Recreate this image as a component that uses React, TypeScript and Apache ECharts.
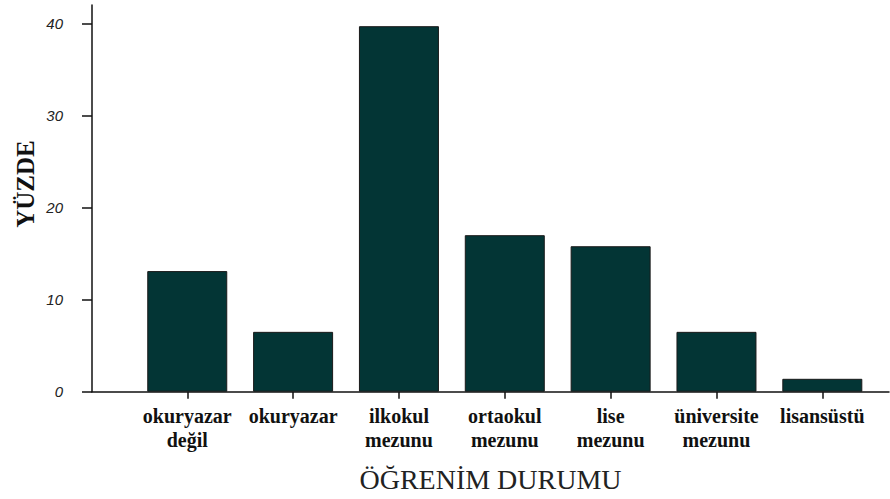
import React, { useEffect, useRef } from "react";
import * as echarts from "echarts";

const categories = [
  "okuryazar\ndeğil",
  "okuryazar",
  "ilkokul\nmezunu",
  "ortaokul\nmezunu",
  "lise\nmezunu",
  "üniversite\nmezunu",
  "lisansüstü",
];
const values = [13.1, 6.5, 39.7, 17.0, 15.8, 6.5, 1.4];
const yTicks = [0, 10, 20, 30, 40];
const yTitle = "YÜZDE";
const xTitle = "ÖĞRENİM DURUMU";

export default function App() {
  const ref = useRef<HTMLDivElement>(null);
  useEffect(() => {
    if (!ref.current) return;
    const chart = echarts.init(ref.current, undefined, { renderer: "svg" });
    const idx = categories.map((_, i) => i);
    chart.setOption({
      animation: false,
      backgroundColor: "#ffffff",
      grid: {
        left: 92,
        right: 1,
        top: 5,
        bottom: 107.3,
        containLabel: false,
        outerBoundsMode: "none",
      },
      xAxis: {
        type: "value",
        min: -0.9,
        max: 6.63,
        splitLine: { show: false },
        axisLine: { show: true, onZero: false, lineStyle: { color: "#111", width: 1.5 } },
        axisTick: {
          show: true,
          customValues: idx,
          length: 7,
          lineStyle: { color: "#111", width: 1.5 },
        },
        axisLabel: {
          customValues: idx,
          formatter: (v: number) => categories[Math.round(v)] ?? "",
          margin: 12,
          fontFamily: "Liberation Serif",
          fontWeight: "bold",
          fontSize: 20,
          lineHeight: 24,
          color: "#111",
        },
        name: xTitle,
        nameLocation: "middle",
        nameGap: 74,
        nameTextStyle: {
          fontFamily: "Liberation Serif",
          fontSize: 28,
          color: "#222",
        },
      },
      yAxis: {
        type: "value",
        min: 0,
        max: 42,
        splitLine: { show: false },
        axisLine: { show: true, onZero: false, lineStyle: { color: "#111", width: 1.5 } },
        axisTick: {
          show: true,
          customValues: yTicks,
          length: 10,
          lineStyle: { color: "#111", width: 1.5 },
        },
        axisLabel: {
          customValues: yTicks,
          margin: 29,
          fontFamily: "Liberation Sans",
          fontStyle: "italic",
          fontSize: 15,
          color: "#222",
          padding: [0, 0, 8, 0],
        },
      },
      graphic: [
        {
          type: "text",
          x: 25,
          y: 184,
          rotation: Math.PI / 2,
          style: {
            text: yTitle,
            fontFamily: "Liberation Serif",
            fontWeight: "bold",
            fontSize: 25,
            fill: "#111",
            align: "center",
            verticalAlign: "middle",
          },
        },
      ],
      series: [
        {
          type: "bar",
          data: values.map((v, i) => [i, v]),
          barWidth: 80,
          itemStyle: { color: "#033535", borderColor: "#1a1a1a", borderWidth: 1 },
        },
      ],
    });
    return () => chart.dispose();
  }, []);
  return (
    <div
      ref={ref}
      style={{ position: "fixed", left: 0, top: 0, width: 890, height: 499 }}
    />
  );
}
